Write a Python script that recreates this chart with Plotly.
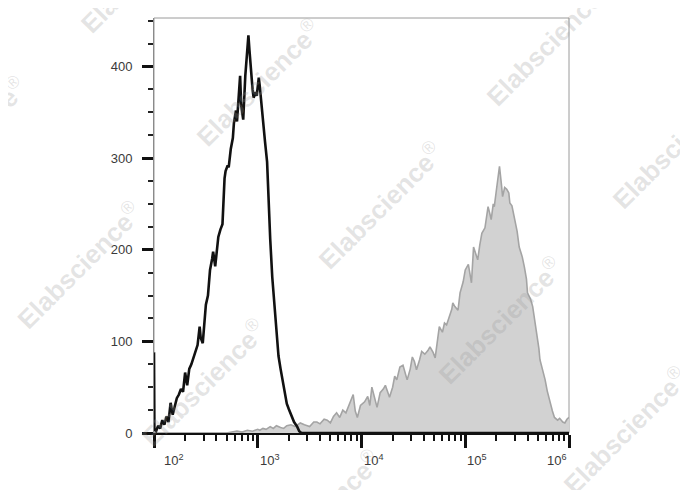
import plotly.graph_objects as go

# ---- data (log10 of fluorescence intensity, event count) ----
black_log = [2.000, 2.004, 2.02, 2.04, 2.06, 2.08, 2.10, 2.12, 2.14, 2.16, 2.18, 2.20, 2.22, 2.24,
             2.26, 2.28, 2.30, 2.32, 2.34, 2.36, 2.38, 2.40, 2.42, 2.44, 2.45, 2.47, 2.49, 2.50,
             2.52, 2.54, 2.56, 2.57, 2.59, 2.61, 2.62, 2.64, 2.66, 2.68, 2.69, 2.71, 2.72, 2.74,
             2.76, 2.77, 2.79, 2.80, 2.81, 2.83, 2.84, 2.86, 2.88, 2.89, 2.91, 2.92, 2.93, 2.95,
             2.96, 2.98, 2.99, 3.01, 3.02, 3.04, 3.05, 3.07, 3.09, 3.10, 3.12, 3.14, 3.17, 3.20,
             3.22, 3.24, 3.26, 3.28, 3.30, 3.33, 3.35, 3.38, 3.40, 3.42, 3.60, 4.50, 6.00]
black_count = [88, 4, 2, 8, 5, 14, 9, 18, 12, 33, 20, 30, 38, 42,
               48, 45, 66, 52, 70, 75, 82, 90, 96, 116, 104, 98, 132, 140,
               150, 178, 190, 198, 182, 205, 214, 222, 228, 278, 286, 292, 290, 310,
               322, 338, 352, 340, 362, 390, 358, 342, 390, 405, 434, 418, 402, 375,
               366, 372, 368, 388, 378, 352, 335, 318, 296, 262, 212, 170, 130, 84,
               70, 56, 44, 32, 26, 18, 12, 7, 2, 0, 0, 0, 0]

gray_log = [2.00, 2.70, 2.75, 2.80, 2.85, 2.90, 2.95, 3.00, 3.02, 3.05, 3.08, 3.12, 3.15, 3.18,
            3.22, 3.25, 3.28, 3.32, 3.36, 3.41, 3.45, 3.50, 3.54, 3.57, 3.60, 3.64, 3.67, 3.70,
            3.73, 3.76, 3.79, 3.82, 3.85, 3.88, 3.92, 3.94, 3.96, 3.99, 4.03, 4.06, 4.08, 4.10,
            4.13, 4.15, 4.18, 4.21, 4.23, 4.25, 4.27, 4.30, 4.32, 4.34, 4.37, 4.40, 4.42, 4.44,
            4.47, 4.49, 4.51, 4.53, 4.56, 4.58, 4.61, 4.64, 4.66, 4.69, 4.71, 4.73, 4.75, 4.78,
            4.80, 4.82, 4.85, 4.87, 4.88, 4.90, 4.93, 4.95, 4.98, 5.00, 5.03, 5.05, 5.06, 5.08,
            5.10, 5.12, 5.14, 5.16, 5.19, 5.21, 5.22, 5.24, 5.25, 5.27, 5.28, 5.30, 5.32, 5.33,
            5.35, 5.36, 5.38, 5.40, 5.42, 5.43, 5.45, 5.48, 5.50, 5.52, 5.55, 5.57, 5.59, 5.60,
            5.63, 5.65, 5.67, 5.69, 5.71, 5.72, 5.75, 5.77, 5.79, 5.81, 5.84, 5.86, 5.89, 5.91,
            5.94, 5.96, 5.98, 6.00]
gray_count = [0, 0, 1, 2, 1, 3, 2, 4, 3, 5, 4, 7, 5, 8,
              6, 5, 8, 9, 7, 11, 9, 7, 12, 12, 10, 15, 14, 11,
              18, 22, 17, 25, 22, 30, 42, 24, 17, 30, 34, 40, 30, 50,
              38, 28, 44, 48, 52, 45, 39, 50, 62, 58, 72, 74, 66, 58,
              70, 83, 78, 69, 80, 89, 86, 90, 94, 88, 82, 100, 116, 110,
              120, 118, 127, 135, 142, 138, 134, 153, 165, 178, 184, 172, 164, 203,
              196, 189, 205, 218, 224, 240, 247, 238, 233, 250, 247, 265, 280, 291,
              270, 258, 268, 266, 262, 251, 248, 233, 220, 203, 192, 181, 168, 153,
              146, 138, 124, 109, 92, 80, 68, 58, 46, 36, 24, 17, 14, 16,
              12, 11, 15, 17]

x_major = [1e2, 1e3, 1e4, 1e5, 1e6]
x_minor = [m * 10 ** d for d in (2, 3, 4, 5) for m in range(2, 10)]
x_label_text = ["10<sup>2</sup>", "10<sup>3</sup>", "10<sup>4</sup>", "10<sup>5</sup>", "10<sup>6</sup>"]
x_label_pos = [2.08, 3.0, 4.0, 5.0, 6.0]
y_major = [0, 100, 200, 300, 400]

watermark_px = [(258, 82), (548, 42), (380, 205), (78, 265), (500, 320), (203, 382),
                (625, 430), (142, -30), (-37, 140), (674, 145), (318, 513)]

# ---- figure ----
# target plot-area edges in window pixels; the page body adds an 8 px offset
OFF = 8
L, R, T, B = 153.5, 569, 18, 433
fig = go.Figure()

fig.add_trace(go.Scatter(
    x=[10 ** v for v in gray_log], y=gray_count, mode="lines",
    line=dict(color="#a4a4a4", width=1.6), fill="tozeroy", fillcolor="#d2d2d2",
    hoverinfo="skip", showlegend=False))
fig.add_trace(go.Scatter(
    x=[10 ** v for v in black_log], y=black_count, mode="lines",
    line=dict(color="#111111", width=2.6), hoverinfo="skip", showlegend=False))

fig.update_layout(
    width=688 - OFF, height=490 - OFF,
    margin=dict(l=L - OFF, r=688 - R, t=T - OFF, b=490 - B, pad=0, autoexpand=False),
    paper_bgcolor="white", plot_bgcolor="white",
    font=dict(family="Liberation Sans, Arial, sans-serif", size=13, color="#333333"),
    xaxis=dict(type="log", range=[2, 6], showgrid=False, zeroline=False,
               showline=True, linecolor="#111111", linewidth=2,
               tickmode="array", tickvals=x_major, ticks="outside", ticklen=13,
               tickwidth=3, tickcolor="#111111", showticklabels=False,
               minor=dict(tickmode="array", tickvals=x_minor, ticks="outside",
                          ticklen=6, tickwidth=2, tickcolor="#111111")),
    yaxis=dict(range=[0, 453], showgrid=False, zeroline=False,
               showline=True, linecolor="#8a8a8a", linewidth=1,
               tickmode="array", tickvals=y_major, ticks="outside", ticklen=11,
               tickwidth=3, tickcolor="#111111", ticklabelstandoff=7,
               tickfont=dict(size=13, color="#3a3a3a"),
               minor=dict(dtick=25, tick0=0, ticks="outside", ticklen=5,
                          tickwidth=1.5, tickcolor="#222222")),
    showlegend=False,
)

# frame (top / right)
fig.add_shape(type="rect", xref="paper", yref="paper", x0=0, y0=0, x1=1, y1=1,
              line=dict(color="#9a9a9a", width=1), layer="below")

for i, (txt, pos) in enumerate(zip(x_label_text, x_label_pos)):
    fig.add_annotation(x=pos, y=0, xref="x", yref="paper", text=txt, showarrow=False,
                       xanchor="right" if i == len(x_label_text) - 1 else "left",
                       yanchor="top", yshift=-17,
                       font=dict(size=13, color="#3a3a3a"))

W, H = R - L, B - T
for cx, cy in watermark_px:
    fig.add_annotation(x=(cx - L) / W, y=(B - cy) / H, xref="paper", yref="paper",
                       text="<b>Elabscience</b><sup>®</sup>", showarrow=False, textangle=-45,
                       xanchor="center", yanchor="middle",
                       font=dict(size=26, color="rgba(150,150,150,0.26)",
                                 family="Liberation Sans, Arial, sans-serif"))

fig.write_html("out.html")
